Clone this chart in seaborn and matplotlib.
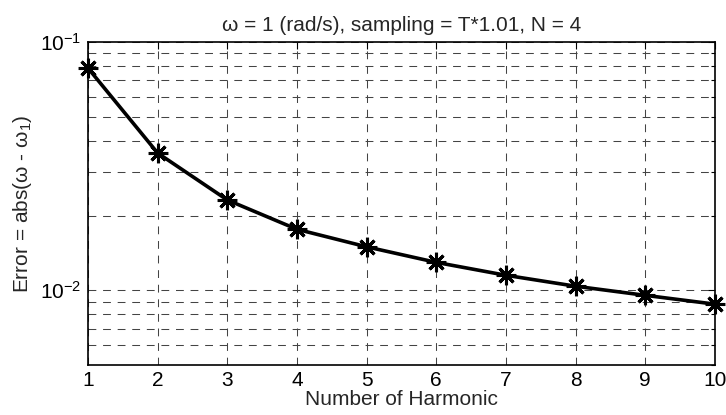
import matplotlib
matplotlib.use("Agg")
import matplotlib.pyplot as plt
import seaborn as sns
import pandas as pd
from matplotlib.ticker import LogLocator, NullFormatter, FixedLocator

harmonics = [1, 2, 3, 4, 5, 6, 7, 8, 9, 10]
errors = [0.0785, 0.0357, 0.0231, 0.0176, 0.01496, 0.01295, 0.01149, 0.01038, 0.00954, 0.00879]

sns.set_theme(style="white")
plt.rcParams['font.family'] = ['Liberation Sans', 'DejaVu Sans']
plt.rcParams['mathtext.fontset'] = 'custom'
plt.rcParams['mathtext.rm'] = 'Liberation Sans'
plt.rcParams['mathtext.it'] = 'Liberation Sans'
plt.rcParams['mathtext.default'] = 'regular'

df = pd.DataFrame({"h": harmonics, "err": errors})

fig = plt.figure(figsize=(7.26, 4.15), dpi=100)
ax = fig.add_axes([0.1212, 0.1205, 0.8636, 0.7783])

sns.lineplot(data=df, x="h", y="err", ax=ax, color="black", linewidth=2.6,
             marker=(8, 2, 0), markersize=14, markeredgewidth=2.2,
             markeredgecolor="black", clip_on=False, zorder=5)

ax.set_yscale("log")
ax.set_xlim(1, 10)
ax.set_ylim(0.005, 0.1)
ax.xaxis.set_major_locator(FixedLocator(harmonics))
ax.yaxis.set_major_locator(LogLocator(base=10, numticks=10))
ax.yaxis.set_minor_locator(LogLocator(base=10, subs=range(2, 10), numticks=20))
ax.yaxis.set_minor_formatter(NullFormatter())

grid_kw = dict(color="#444444", linestyle=(0, (7.5, 6.5)), linewidth=0.75)
ax.grid(True, which="major", axis="both", **grid_kw)
ax.grid(True, which="minor", axis="y", **grid_kw)

ax.tick_params(axis="both", which="both", direction="in", top=True, right=True,
               colors="black", labelsize=15)
ax.tick_params(which="major", length=5, width=0.8, pad=5)
ax.tick_params(axis="x", which="major", pad=4)
ax.tick_params(which="minor", length=3, width=0.8)
for s in ax.spines.values():
    s.set_color("black")
    s.set_linewidth(1.2)

ax.set_xlabel("Number of Harmonic", fontsize=15, labelpad=0.5)
ax.set_ylabel("Error = abs(ω - ω$_1$)", fontsize=15, labelpad=4)
ax.set_title("ω = 1 (rad/s), sampling = T*1.01, N = 4", fontsize=15, pad=8)

fig.savefig("out.png", dpi=100)
